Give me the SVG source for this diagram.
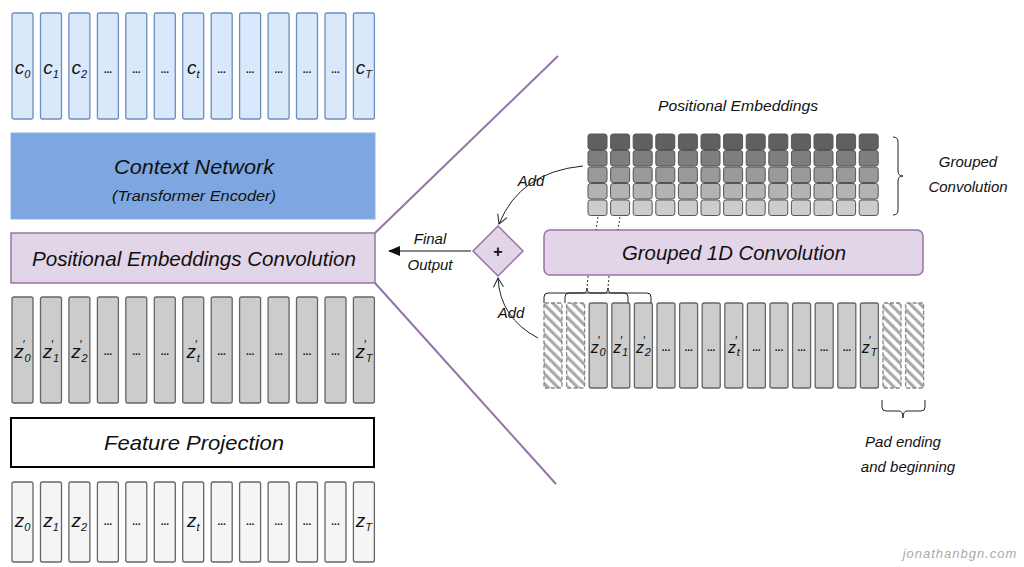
<svg xmlns="http://www.w3.org/2000/svg" xmlns:xlink="http://www.w3.org/1999/xlink" width="1024" height="567" viewBox="0 0 1024 567">
<style>
text{font-family:"Liberation Sans","DejaVu Sans",sans-serif;font-style:italic;fill:#111}
.cb{fill:#dae8fc;stroke:#6c8ebf;stroke-width:1.3}
.cg{fill:#cccccc;stroke:#666;stroke-width:1.3}
.cw{fill:#f5f5f5;stroke:#666;stroke-width:1.3}
.ch{fill:url(#hatch);stroke:#888;stroke-width:1.3;stroke-dasharray:4 2}
.lbl{font-size:19px;text-anchor:middle}
.rl{font-size:16px;text-anchor:middle}
.sub{font-size:11px}
.pr{font-size:12px}
.dots{font-size:10px;text-anchor:middle;font-style:normal;font-weight:bold}
.big{font-size:21px;text-anchor:middle}
.mid{font-size:15px;text-anchor:middle}
.pl{fill:none;stroke:#9673a6;stroke-width:2}
.thin{fill:none;stroke:#222;stroke-width:1}
.dot{fill:none;stroke:#333;stroke-width:1;stroke-dasharray:2 2}
</style>
<defs>
<pattern id="hatch" width="7" height="7" patternUnits="userSpaceOnUse" patternTransform="rotate(-45)">
<rect width="7" height="7" fill="#fff"/>
<rect width="3.2" height="7" fill="#aaaaaa"/>
</pattern>
<marker id="arF" markerWidth="12" markerHeight="10" refX="11" refY="5" orient="auto" markerUnits="userSpaceOnUse">
<path d="M0,0 L12,5 L0,10 Z" fill="#111"/>
</marker>
<marker id="arO" markerWidth="12" markerHeight="12" refX="10" refY="6" orient="auto" markerUnits="userSpaceOnUse">
<path d="M1,1 L10,6 L1,11" fill="none" stroke="#222" stroke-width="1"/>
</marker>
<g id="embcol">
<rect x="0" y="134" width="19" height="15.5" rx="2.5" fill="#606060" stroke="#555" stroke-width="1"/>
<rect x="0" y="150.5" width="19" height="15.5" rx="2.5" fill="#7e7e7e" stroke="#555" stroke-width="1"/>
<rect x="0" y="167" width="19" height="15.5" rx="2.5" fill="#999" stroke="#555" stroke-width="1"/>
<rect x="0" y="183.5" width="19" height="15.5" rx="2.5" fill="#b3b3b3" stroke="#555" stroke-width="1"/>
<rect x="0" y="200" width="19" height="15.5" rx="2.5" fill="#cccccc" stroke="#555" stroke-width="1"/>
</g>
</defs>
<rect width="1024" height="567" fill="#fff"/>

<!-- Top row c -->
<g id="ctx-out">
<g id="c0"><rect class="cb" x="12" y="13" width="21" height="106" rx="2"/><text class="lbl" x="22.5" y="74">c<tspan class="sub" dy="4">0</tspan></text></g>
<g id="c1"><rect class="cb" x="40.5" y="13" width="21" height="106" rx="2"/><text class="lbl" x="51" y="74">c<tspan class="sub" dy="4">1</tspan></text></g>
<g id="c2"><rect class="cb" x="68.9" y="13" width="21" height="106" rx="2"/><text class="lbl" x="79.4" y="74">c<tspan class="sub" dy="4">2</tspan></text></g>
<g id="c3"><rect class="cb" x="97.4" y="13" width="21" height="106" rx="2"/><text class="dots" x="107.9" y="73">...</text></g>
<g id="c4"><rect class="cb" x="125.8" y="13" width="21" height="106" rx="2"/><text class="dots" x="136.3" y="73">...</text></g>
<g id="c5"><rect class="cb" x="154.3" y="13" width="21" height="106" rx="2"/><text class="dots" x="164.8" y="73">...</text></g>
<g id="ct"><rect class="cb" x="182.7" y="13" width="21" height="106" rx="2"/><text class="lbl" x="193.2" y="74">c<tspan class="sub" dy="4">t</tspan></text></g>
<g id="c7"><rect class="cb" x="211.2" y="13" width="21" height="106" rx="2"/><text class="dots" x="221.7" y="73">...</text></g>
<g id="c8"><rect class="cb" x="239.6" y="13" width="21" height="106" rx="2"/><text class="dots" x="250.1" y="73">...</text></g>
<g id="c9"><rect class="cb" x="268.1" y="13" width="21" height="106" rx="2"/><text class="dots" x="278.6" y="73">...</text></g>
<g id="c10"><rect class="cb" x="296.5" y="13" width="21" height="106" rx="2"/><text class="dots" x="307" y="73">...</text></g>
<g id="c11"><rect class="cb" x="325" y="13" width="21" height="106" rx="2"/><text class="dots" x="335.5" y="73">...</text></g>
<g id="cT"><rect class="cb" x="353.4" y="13" width="21" height="106" rx="2"/><text class="lbl" x="363.9" y="74">c<tspan class="sub" dy="4">T</tspan></text></g>
</g>

<g id="context-network">
<rect x="11" y="133" width="364" height="86" fill="#7ea6e0" stroke="#8fb1e3" stroke-width="1"/>
<text class="big" x="194" y="174" textLength="160" lengthAdjust="spacingAndGlyphs">Context Network</text>
<text class="mid" x="194" y="201" textLength="164" lengthAdjust="spacingAndGlyphs">(Transformer Encoder)</text>
</g>

<g id="pos-conv">
<rect x="11" y="233" width="364" height="50" fill="#e1d5e7" stroke="#9673a6" stroke-width="1.5"/>
<text class="big" x="194" y="266" textLength="324" lengthAdjust="spacingAndGlyphs">Positional Embeddings Convolution</text>
</g>

<!-- Middle row z' -->
<g id="zp-row">
<g id="zp0"><rect class="cg" x="12" y="297" width="21" height="106" rx="2"/><text class="lbl" x="22.5" y="358">z<tspan class="pr" dx="-1.5" dy="-9">′</tspan><tspan class="sub" dy="13">0</tspan></text></g>
<g id="zp1"><rect class="cg" x="40.5" y="297" width="21" height="106" rx="2"/><text class="lbl" x="51" y="358">z<tspan class="pr" dx="-1.5" dy="-9">′</tspan><tspan class="sub" dy="13">1</tspan></text></g>
<g id="zp2"><rect class="cg" x="68.9" y="297" width="21" height="106" rx="2"/><text class="lbl" x="79.4" y="358">z<tspan class="pr" dx="-1.5" dy="-9">′</tspan><tspan class="sub" dy="13">2</tspan></text></g>
<g id="zp3"><rect class="cg" x="97.4" y="297" width="21" height="106" rx="2"/><text class="dots" x="107.9" y="355">...</text></g>
<g id="zp4"><rect class="cg" x="125.8" y="297" width="21" height="106" rx="2"/><text class="dots" x="136.3" y="355">...</text></g>
<g id="zp5"><rect class="cg" x="154.3" y="297" width="21" height="106" rx="2"/><text class="dots" x="164.8" y="355">...</text></g>
<g id="zpt"><rect class="cg" x="182.7" y="297" width="21" height="106" rx="2"/><text class="lbl" x="193.2" y="358">z<tspan class="pr" dx="-1.5" dy="-9">′</tspan><tspan class="sub" dy="13">t</tspan></text></g>
<g id="zp7"><rect class="cg" x="211.2" y="297" width="21" height="106" rx="2"/><text class="dots" x="221.7" y="355">...</text></g>
<g id="zp8"><rect class="cg" x="239.6" y="297" width="21" height="106" rx="2"/><text class="dots" x="250.1" y="355">...</text></g>
<g id="zp9"><rect class="cg" x="268.1" y="297" width="21" height="106" rx="2"/><text class="dots" x="278.6" y="355">...</text></g>
<g id="zp10"><rect class="cg" x="296.5" y="297" width="21" height="106" rx="2"/><text class="dots" x="307" y="355">...</text></g>
<g id="zp11"><rect class="cg" x="325" y="297" width="21" height="106" rx="2"/><text class="dots" x="335.5" y="355">...</text></g>
<g id="zpT"><rect class="cg" x="353.4" y="297" width="21" height="106" rx="2"/><text class="lbl" x="363.9" y="358">z<tspan class="pr" dx="-1.5" dy="-9">′</tspan><tspan class="sub" dy="13">T</tspan></text></g>
</g>

<g id="feature-projection">
<rect x="11" y="418" width="363" height="49" fill="#fff" stroke="#000" stroke-width="2"/>
<text class="big" x="194" y="450" textLength="180" lengthAdjust="spacingAndGlyphs">Feature Projection</text>
</g>

<!-- Bottom row z -->
<g id="z-row">
<g id="z0"><rect class="cw" x="12" y="482" width="21" height="80" rx="2"/><text class="lbl" x="22.5" y="527">z<tspan class="sub" dy="4">0</tspan></text></g>
<g id="z1"><rect class="cw" x="40.5" y="482" width="21" height="80" rx="2"/><text class="lbl" x="51" y="527">z<tspan class="sub" dy="4">1</tspan></text></g>
<g id="z2"><rect class="cw" x="68.9" y="482" width="21" height="80" rx="2"/><text class="lbl" x="79.4" y="527">z<tspan class="sub" dy="4">2</tspan></text></g>
<g id="z3"><rect class="cw" x="97.4" y="482" width="21" height="80" rx="2"/><text class="dots" x="107.9" y="525">...</text></g>
<g id="z4"><rect class="cw" x="125.8" y="482" width="21" height="80" rx="2"/><text class="dots" x="136.3" y="525">...</text></g>
<g id="z5"><rect class="cw" x="154.3" y="482" width="21" height="80" rx="2"/><text class="dots" x="164.8" y="525">...</text></g>
<g id="zt"><rect class="cw" x="182.7" y="482" width="21" height="80" rx="2"/><text class="lbl" x="193.2" y="527">z<tspan class="sub" dy="4">t</tspan></text></g>
<g id="z7"><rect class="cw" x="211.2" y="482" width="21" height="80" rx="2"/><text class="dots" x="221.7" y="525">...</text></g>
<g id="z8"><rect class="cw" x="239.6" y="482" width="21" height="80" rx="2"/><text class="dots" x="250.1" y="525">...</text></g>
<g id="z9"><rect class="cw" x="268.1" y="482" width="21" height="80" rx="2"/><text class="dots" x="278.6" y="525">...</text></g>
<g id="z10"><rect class="cw" x="296.5" y="482" width="21" height="80" rx="2"/><text class="dots" x="307" y="525">...</text></g>
<g id="z11"><rect class="cw" x="325" y="482" width="21" height="80" rx="2"/><text class="dots" x="335.5" y="525">...</text></g>
<g id="zT"><rect class="cw" x="353.4" y="482" width="21" height="80" rx="2"/><text class="lbl" x="363.9" y="527">z<tspan class="sub" dy="4">T</tspan></text></g>
</g>

<!-- Right side: positional embeddings grid -->
<g id="pos-emb">
<text class="mid" x="738" y="111" textLength="160" lengthAdjust="spacingAndGlyphs">Positional Embeddings</text>
<use xlink:href="#embcol" href="#embcol" x="588"/>
<use xlink:href="#embcol" href="#embcol" x="610.6"/>
<use xlink:href="#embcol" href="#embcol" x="633.2"/>
<use xlink:href="#embcol" href="#embcol" x="655.8"/>
<use xlink:href="#embcol" href="#embcol" x="678.4"/>
<use xlink:href="#embcol" href="#embcol" x="701"/>
<use xlink:href="#embcol" href="#embcol" x="723.6"/>
<use xlink:href="#embcol" href="#embcol" x="746.2"/>
<use xlink:href="#embcol" href="#embcol" x="768.8"/>
<use xlink:href="#embcol" href="#embcol" x="791.4"/>
<use xlink:href="#embcol" href="#embcol" x="814"/>
<use xlink:href="#embcol" href="#embcol" x="836.6"/>
<use xlink:href="#embcol" href="#embcol" x="859.2"/>
</g>

<g id="grouped-conv-label">
<path class="thin" d="M893,137 Q898,137 898,142 L898,171 Q898,176 903,176 Q898,176 898,181 L898,210 Q898,215 893,215"/>
<text class="mid" x="968" y="167">Grouped</text>
<text class="mid" x="968" y="192">Convolution</text>
</g>

<g id="grouped-1d-conv">
<rect x="544" y="230" width="379" height="45" rx="6" fill="#e1d5e7" stroke="#9673a6" stroke-width="1.5"/>
<text class="big" x="734" y="260" textLength="224" lengthAdjust="spacingAndGlyphs">Grouped 1D Convolution</text>
</g>

<g id="sum">
<path d="M498,226 L523,251 L498,276 L473,251 Z" fill="#e1d5e7" stroke="#9673a6" stroke-width="1.5"/>
<text x="498" y="257" text-anchor="middle" style="font-size:16px;font-style:normal;font-weight:bold">+</text>
</g>

<!-- Right bottom padded row -->
<g id="padded-row">
<g id="pad0"><rect class="ch" x="544" y="303" width="18" height="85" rx="1"/></g>
<g id="pad1"><rect class="ch" x="566.6" y="303" width="18" height="85" rx="1"/></g>
<g id="rzp0"><rect class="cg" x="589.2" y="303" width="18" height="85" rx="2"/><text class="rl" x="598.2" y="353">z<tspan class="pr" dx="-1.5" dy="-8">′</tspan><tspan class="sub" dy="11">0</tspan></text></g>
<g id="rzp1"><rect class="cg" x="611.8" y="303" width="18" height="85" rx="2"/><text class="rl" x="620.8" y="353">z<tspan class="pr" dx="-1.5" dy="-8">′</tspan><tspan class="sub" dy="11">1</tspan></text></g>
<g id="rzp2"><rect class="cg" x="634.4" y="303" width="18" height="85" rx="2"/><text class="rl" x="643.4" y="353">z<tspan class="pr" dx="-1.5" dy="-8">′</tspan><tspan class="sub" dy="11">2</tspan></text></g>
<g id="rzp3"><rect class="cg" x="657" y="303" width="18" height="85" rx="2"/><text class="dots" x="666" y="351">...</text></g>
<g id="rzp4"><rect class="cg" x="679.6" y="303" width="18" height="85" rx="2"/><text class="dots" x="688.6" y="351">...</text></g>
<g id="rzp5"><rect class="cg" x="702.2" y="303" width="18" height="85" rx="2"/><text class="dots" x="711.2" y="351">...</text></g>
<g id="rzpt"><rect class="cg" x="724.8" y="303" width="18" height="85" rx="2"/><text class="rl" x="733.8" y="353">z<tspan class="pr" dx="-1.5" dy="-8">′</tspan><tspan class="sub" dy="11">t</tspan></text></g>
<g id="rzp7"><rect class="cg" x="747.4" y="303" width="18" height="85" rx="2"/><text class="dots" x="756.4" y="351">...</text></g>
<g id="rzp8"><rect class="cg" x="770" y="303" width="18" height="85" rx="2"/><text class="dots" x="779" y="351">...</text></g>
<g id="rzp9"><rect class="cg" x="792.6" y="303" width="18" height="85" rx="2"/><text class="dots" x="801.6" y="351">...</text></g>
<g id="rzp10"><rect class="cg" x="815.2" y="303" width="18" height="85" rx="2"/><text class="dots" x="824.2" y="351">...</text></g>
<g id="rzp11"><rect class="cg" x="837.8" y="303" width="18" height="85" rx="2"/><text class="dots" x="846.8" y="351">...</text></g>
<g id="rzpT"><rect class="cg" x="860.4" y="303" width="18" height="85" rx="2"/><text class="rl" x="869.4" y="353">z<tspan class="pr" dx="-1.5" dy="-8">′</tspan><tspan class="sub" dy="11">T</tspan></text></g>
<g id="pad2"><rect class="ch" x="883" y="303" width="18" height="85" rx="1"/></g>
<g id="pad3"><rect class="ch" x="905.6" y="303" width="18" height="85" rx="1"/></g>
</g>

<g id="pad-label">
<text class="mid" x="903" y="447">Pad ending</text>
<text class="mid" x="908" y="472">and beginning</text>
</g>

<!-- Connectors -->
<g id="connectors">
<line class="pl" x1="375" y1="233" x2="558" y2="56"/>
<line class="pl" x1="375" y1="283" x2="556" y2="484"/>
<line x1="471" y1="251" x2="389" y2="251" stroke="#111" stroke-width="1.2" marker-end="url(#arF)"/>
<text class="mid" x="430" y="244">Final</text>
<text class="mid" x="430" y="270">Output</text>
<path class="thin" d="M583,166 Q520,172 499,224" marker-end="url(#arO)"/>
<text class="mid" x="531" y="186">Add</text>
<path class="thin" d="M538,338 Q500,318 498,278" marker-end="url(#arO)"/>
<text class="mid" x="511" y="318">Add</text>
<line class="dot" x1="598" y1="217" x2="596" y2="230"/>
<line class="dot" x1="620" y1="217" x2="618" y2="230"/>
<line class="dot" x1="588" y1="276" x2="587" y2="288"/>
<line class="dot" x1="609" y1="276" x2="608" y2="288"/>
<path class="thin" d="M544,303 L544,297 Q544,293 548,293 L583,293 Q587,293 587,288 Q587,293 591,293 L624,293 Q628,293 628,297 L628,303"/>
<path class="thin" d="M565,303 L565,297 Q565,293 569,293 L604,293 Q608,293 608,288 Q608,293 612,293 L647,293 Q651,293 651,297 L651,303"/>
<path class="thin" d="M882,400 L882,407 Q882,411 886,411 L899,411 Q903,411 903,418 Q903,411 907,411 L921,411 Q925,411 925,407 L925,400"/>
</g>

<text x="960" y="558" text-anchor="middle" style="font-size:13px;fill:#aaa;letter-spacing:1px">jonathanbgn.com</text>
</svg>
